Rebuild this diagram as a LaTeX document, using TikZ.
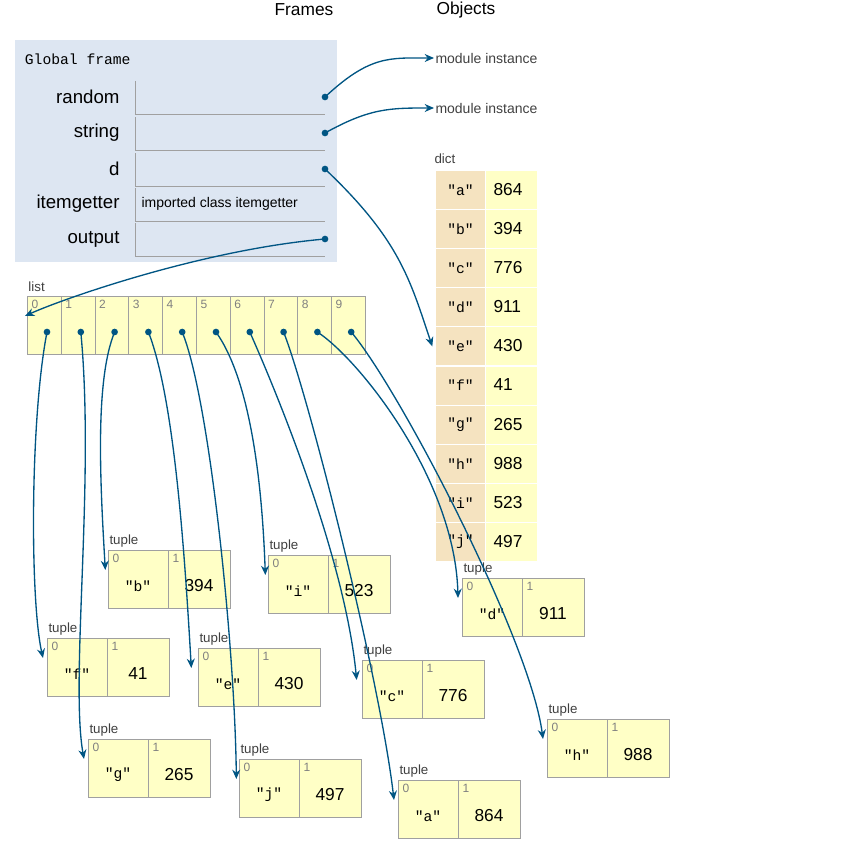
\documentclass[tikz,border=0pt]{standalone}
\usepackage{fontspec}
\setmainfont{Liberation Sans}
\setmonofont{Liberation Mono}
\usetikzlibrary{arrows.meta}
\definecolor{ptblue}{HTML}{005583}
\definecolor{frameblue}{HTML}{DDE6F2}
\definecolor{cellyel}{HTML}{FFFFC6}
\definecolor{keybeige}{HTML}{F5E3C0}
\definecolor{edge}{HTML}{A0A0A0}
\tikzset{every picture/.style={line width=0.75pt}}
\tikzset{
  ptr/.style={ptblue, line width=1pt, -{Stealth[length=7pt,width=6pt]}},
  dot/.style={circle, fill=ptblue, inner sep=0pt, minimum size=5pt},
  cell/.style={draw=edge, fill=cellyel, inner sep=0pt, anchor=north west, minimum height=43.5pt},
  idx/.style={font=\fontsize{9}{10}\selectfont, text=gray, anchor=north west, inner sep=0.75pt},
  val/.style={font=\fontsize{13}{15}\selectfont},
  key/.style={font=\ttfamily\fontsize{11}{13}\selectfont},
  lbl/.style={font=\fontsize{10}{12}\selectfont, text=black!75, anchor=south west, inner sep=0.75pt},
  varname/.style={font=\fontsize{14}{16}\selectfont, anchor=east, inner sep=0.75pt},
}
% tuple box: name, x, y, key, value
\newcommand{\tuplebox}[5]{
  \node[lbl] at (#2,#3-1) {tuple};
  \node[cell, minimum width=45pt] (#1-0) at (#2,#3) {};
  \node[cell, minimum width=46.5pt] (#1-1) at (#2+60,#3) {};
  \node[idx] at (#2+3,#3+3) {0};
  \node[idx] at (#2+63,#3+3) {1};
  \node[key] at (#2+30,#3+36) {"#4"};
  \node[val] at (#2+91,#3+36) {#5};
}
\begin{document}
\begin{tikzpicture}[x=0.75pt,y=0.75pt,yscale=-1,xscale=1]
\path[use as bounding box] (0,0) rectangle (844,867);

% headers
\node[font=\fontsize{13}{15}\selectfont] (frames) at (304,10) {Frames};
\node[font=\fontsize{13}{15}\selectfont] (objects) at (466,10) {Objects};

% global frame
\fill[frameblue] (15,40) rectangle (337,262);
\node[font=\ttfamily\fontsize{11}{13}\selectfont, anchor=west] (gf) at (20,59) {Global frame};
\foreach \nm/\y in {random/97, string/133, d/169, itemgetter/204, output/239}{
  \node[varname] (v-\nm) at (121,\y) {\nm};
  \draw[edge] (135,\y-16) -- (135,\y+17) -- (325,\y+17);
}
\node[font=\fontsize{10.5}{12}\selectfont, anchor=west, inner sep=0.75pt] (itm) at (140,204) {imported class itemgetter};
\foreach \nm/\y in {random/97, string/133, d/169, output/239}
  \node[dot] (p-\nm) at (325,\y) {};

% module instances
\node[font=\fontsize{10.5}{12}\selectfont, anchor=west, inner sep=0.75pt, text=black!75] (mod1) at (434,58) {module instance};
\node[font=\fontsize{10.5}{12}\selectfont, anchor=west, inner sep=0.75pt, text=black!75] (mod2) at (434,108) {module instance};

% dict
\node[lbl] (dictlbl) at (433,165) {dict};
\foreach \k/\v [count=\i from 0] in {a/864, b/394, c/776, d/911, e/430, f/41, g/265, h/988, i/523, j/497}{
  \node[draw=white, fill=keybeige, anchor=north west, minimum width=37.5pt, minimum height=29.3pt, key] (dk-\k) at (435,170+39.1*\i) {"\k"};
  \node[draw=white, fill=cellyel, anchor=north west, minimum width=39pt, minimum height=29.3pt, val] (dv-\k) at (485,170+39.1*\i) {};
  \node[val, anchor=west, inner sep=0.75pt] at (492,189.5+39.1*\i) {\v};
}

% list
\node[lbl] (listlbl) at (27,293) {list};
\foreach \i in {0,...,9}{
  \node[cell, minimum width=25.5pt] (l-\i) at (27+33.8*\i,296) {};
  \node[idx] at (30+33.8*\i,299) {\i};
  \node[dot] (q-\i) at (47+33.8*\i,332) {};
}
\coordinate (listin) at (25,316);

% tuples
\tuplebox{tb}{108}{550}{b}{394}
\tuplebox{ti}{268}{555}{i}{523}
\tuplebox{td}{462}{578}{d}{911}
\tuplebox{tf}{47}{638}{f}{41}
\tuplebox{te}{198}{648}{e}{430}
\tuplebox{tc}{362}{660}{c}{776}
\tuplebox{th}{547}{719}{h}{988}
\tuplebox{tg}{88}{739}{g}{265}
\tuplebox{tj}{239}{759}{j}{497}
\tuplebox{ta}{398}{780}{a}{864}

% pointers
\draw[ptr] (p-random.center) .. controls (370,55) and (390,58) .. (mod1.west);
\draw[ptr] (p-string.center) .. controls (370,108) and (390,108) .. (mod2.west);
\draw[ptr] (p-d.center) .. controls (400,240) and (410,280) .. ([xshift=-2pt]dk-e.west);
\draw[ptr] (p-output.center) .. controls (200,250) and (60,300) .. (listin);
\draw[ptr] (q-0.center) .. controls (30,420) and (30,600) .. ([xshift=-3pt,yshift=15pt]tf-0.north west);
\draw[ptr] (q-1.center) .. controls (95,480) and (70,680) .. ([xshift=-3pt,yshift=15pt]tg-0.north west);
\draw[ptr] (q-2.center) .. controls (95,380) and (100,480) .. ([xshift=-2pt,yshift=15pt]tb-0.north west);
\draw[ptr] (q-3.center) .. controls (175,400) and (185,560) .. ([xshift=-5pt,yshift=15pt]te-0.north west);
\draw[ptr] (q-4.center) .. controls (210,400) and (235,650) .. ([xshift=-2pt,yshift=15pt]tj-0.north west);
\draw[ptr] (q-5.center) .. controls (250,380) and (262,480) .. ([xshift=-2pt,yshift=15pt]ti-0.north west);
\draw[ptr] (q-6.center) .. controls (280,400) and (345,560) .. ([xshift=-4pt,yshift=15pt]tc-0.north west);
\draw[ptr] (q-7.center) .. controls (310,400) and (380,680) .. ([xshift=-3pt,yshift=15pt]ta-0.north west);
\draw[ptr] (q-8.center) .. controls (360,360) and (455,480) .. ([xshift=-3pt,yshift=15pt]td-0.north west);
\draw[ptr] (q-9.center) .. controls (400,390) and (530,640) .. ([xshift=-3pt,yshift=15pt]th-0.north west);

\end{tikzpicture}
\end{document}
